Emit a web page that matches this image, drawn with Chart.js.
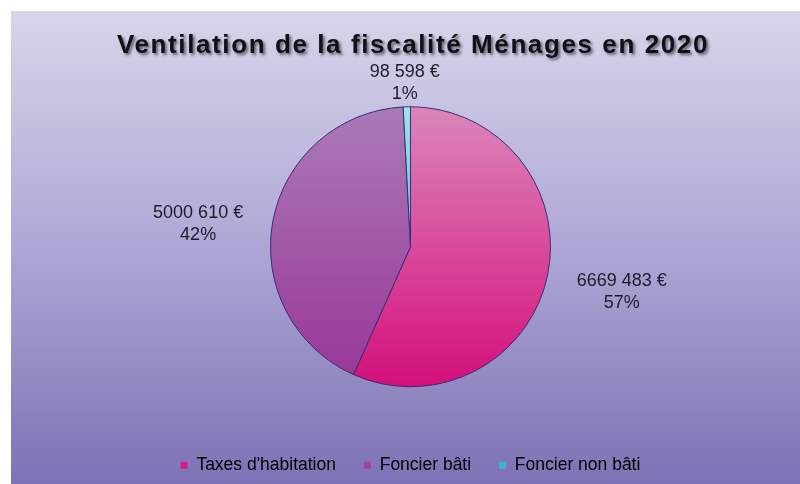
<!DOCTYPE html>
<html>
<head>
<meta charset="utf-8">
<script src="https://cdn.jsdelivr.net/npm/chart.js@4/dist/chart.umd.min.js"></script>
<style>
  html, body { margin: 0; padding: 0; background: #fff; }
  canvas { display: block; }
</style>
</head>
<body>
<canvas id="c" width="800" height="484"></canvas>
<script>
  // Données
  const chartTitle = "Ventilation de la fiscalité Ménages en 2020";
  const categories = ["Taxes d'habitation", "Foncier bâti", "Foncier non bâti"];
  const amounts = [6669483, 5000610, 98598];

  // Couleurs (haut -> bas du dégradé) + couleur pleine pour la légende
  const topColors = ["#dc86bb", "#ab7ab8", "#9fe2ea"];
  const bottomColors = ["#d40f7c", "#983596", "#2a9fc0"];
  const legendColors = ["#d81b80", "#a0449f", "#3fb3c9"];

  const PIE_R = 140;
  const total = amounts.reduce((s, v) => s + v, 0);

  function euro(v) {
    const s = String(v);
    if (s.length <= 3) return s + " €";
    return s.slice(0, -3) + " " + s.slice(-3) + " €";
  }

  function sliceGradient(ctx, i) {
    const area = ctx.chart.chartArea;
    if (!area || !isFinite(area.top)) return legendColors[i];
    const cy = (area.top + area.bottom) / 2;
    const g = ctx.chart.ctx.createLinearGradient(0, cy - PIE_R, 0, cy + PIE_R);
    g.addColorStop(0, topColors[i]);
    g.addColorStop(1, bottomColors[i]);
    return g;
  }

  // Fond + cadre
  const backdrop = {
    id: "backdrop",
    beforeDraw(chart) {
      const { ctx, width, height } = chart;
      ctx.save();
      ctx.fillStyle = "#ffffff";
      ctx.fillRect(0, 0, width, height);
      const g = ctx.createLinearGradient(0, 11, 0, height);
      g.addColorStop(0, "#d7d5ea");
      g.addColorStop(0.45, "#b3acd8");
      g.addColorStop(1, "#7d72b5");
      ctx.fillStyle = g;
      ctx.fillRect(11, 11, width - 11, height - 11);
      ctx.restore();
    }
  };

  // Titre avec ombre
  const shadowTitle = {
    id: "shadowTitle",
    afterDraw(chart) {
      const ctx = chart.ctx;
      ctx.save();
      ctx.font = "bold 26px 'Liberation Sans', Arial, sans-serif";
      if ("letterSpacing" in ctx) ctx.letterSpacing = "1.6px";
      ctx.textAlign = "center";
      ctx.textBaseline = "middle";
      ctx.shadowColor = "rgba(0,0,0,0.55)";
      ctx.shadowOffsetX = 2;
      ctx.shadowOffsetY = 2;
      ctx.shadowBlur = 3;
      ctx.fillStyle = "#111118";
      ctx.fillText(chartTitle, 413, 46);
      ctx.restore();
    }
  };

  // Étiquettes extérieures (valeur + pourcentage)
  const outerLabels = {
    id: "outerLabels",
    afterDatasetsDraw(chart) {
      const ctx = chart.ctx;
      const meta = chart.getDatasetMeta(0);
      ctx.save();
      ctx.font = "18px 'Liberation Sans', Arial, sans-serif";
      ctx.fillStyle = "#1e1c2c";
      ctx.textAlign = "center";
      ctx.textBaseline = "middle";
      meta.data.forEach((arc, i) => {
        const mid = (arc.startAngle + arc.endAngle) / 2;
        const R = arc.outerRadius;
        const x = arc.x + Math.cos(mid) * (R + 76);
        const y = arc.y + Math.sin(mid) * (R + 33) + 9;
        const pct = Math.round(amounts[i] / total * 100) + "%";
        ctx.fillText(euro(amounts[i]), x, y - 11);
        ctx.fillText(pct, x, y + 11);
      });
      ctx.restore();
    }
  };

  new Chart(document.getElementById("c"), {
    type: "pie",
    data: {
      labels: categories,
      datasets: [{
        data: amounts,
        backgroundColor: (ctx) => sliceGradient(ctx, ctx.dataIndex),
        borderColor: "#3a2f72",
        borderWidth: 1
      }]
    },
    options: {
      responsive: false,
      animation: false,
      radius: PIE_R,
      layout: { padding: { top: 65, bottom: 0, left: 21, right: 0 } },
      plugins: {
        title: { display: false },
        tooltip: { enabled: false },
        legend: {
          position: "bottom",
          labels: {
            boxWidth: 7,
            boxHeight: 7,
            padding: 28,
            color: "#22202e",
            font: { family: "'Liberation Sans', Arial, sans-serif", size: 17.5 },
            generateLabels: () => categories.map((c, i) => ({
              text: c,
              fillStyle: legendColors[i],
              strokeStyle: legendColors[i],
              lineWidth: 0,
              index: i,
              hidden: false
            }))
          }
        }
      }
    },
    plugins: [backdrop, outerLabels, shadowTitle]
  });
</script>
</body>
</html>
